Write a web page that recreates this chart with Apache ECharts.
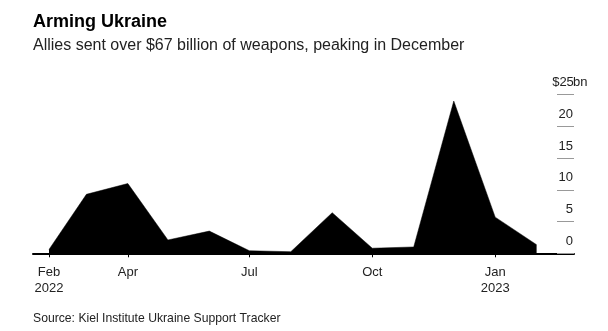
<!DOCTYPE html>
<html>
<head>
<meta charset="utf-8">
<style>
  html, body { margin: 0; padding: 0; background: #fff; }
  #chart { width: 608px; height: 331px; }
</style>
<script src="https://cdn.jsdelivr.net/npm/echarts@6/dist/echarts.min.js"></script>
</head>
<body>
<div id="chart"></div>
<script>
// Monthly weapons commitments to Ukraine, $bn
const months = [
  '2022-02-01', '2022-03-01', '2022-04-01', '2022-05-01', '2022-06-01', '2022-07-01',
  '2022-08-01', '2022-09-01', '2022-10-01', '2022-11-01', '2022-12-01', '2023-01-01',
  '2023-02-01'
];
const weapons = [0.6, 9.3, 11.0, 2.1, 3.5, 0.4, 0.25, 6.4, 0.8, 1.0, 24.0, 5.7, 1.35];

// Date-axis labels
const tickDates = ['2022-02-01', '2022-04-01', '2022-07-01', '2022-10-01', '2023-01-01'];
const tickLabels = ['Feb\n2022', 'Apr', 'Jul', 'Oct', 'Jan\n2023'];

// Value-axis labels
const yTicks = [0, 5, 10, 15, 20, 25];
const yTopLabel = '$25';
const yUnit = 'bn';

const FONT = "'Liberation Sans', Arial, sans-serif";
// dates are placed on a linear day scale
const toDay = d => new Date(d + 'T00:00:00Z').getTime() / 86400000;
const tickDays = tickDates.map(toDay);

const chart = echarts.init(document.getElementById('chart'), null, { renderer: 'canvas' });

chart.setOption({
  animation: false,
  backgroundColor: '#fff',
  textStyle: { fontFamily: FONT },
  title: [
    {
      text: 'Arming Ukraine',
      subtext: 'Allies sent over $67 billion of weapons, peaking in December',
      left: 33,
      top: 12,
      padding: 0,
      itemGap: 4,
      textStyle: { fontFamily: FONT, fontSize: 18, fontWeight: 'bold', color: '#000', lineHeight: 20 },
      subtextStyle: { fontFamily: FONT, fontSize: 16, color: '#222', lineHeight: 19 }
    },
    {
      text: 'Source: Kiel Institute Ukraine Support Tracker',
      left: 33,
      top: 311,
      padding: 0,
      textStyle: { fontFamily: FONT, fontSize: 12.2, fontWeight: 'normal', color: '#222', lineHeight: 16 }
    }
  ],
  grid: { left: 33, right: 34, top: 94.7, bottom: 77.7, containLabel: false },
  xAxis: {
    type: 'value',
    min: toDay('2022-01-20'),
    max: toDay('2023-03-01'),
    axisLine: { show: true, lineStyle: { color: '#000', width: 2 } },
    axisTick: { show: true, length: 4, customValues: tickDays, lineStyle: { color: '#000', width: 1 } },
    splitLine: { show: false },
    axisLabel: {
      customValues: tickDays,
      margin: 11,
      fontFamily: FONT,
      fontSize: 13,
      lineHeight: 16,
      color: '#222',
      formatter: v => {
        const i = tickDays.indexOf(v);
        return i >= 0 ? tickLabels[i] : '';
      }
    }
  },
  yAxis: {
    type: 'value',
    position: 'right',
    min: yTicks[0],
    max: yTicks[yTicks.length - 1],
    interval: 5,
    axisLine: { show: false },
    splitLine: { show: false },
    axisTick: { show: true, inside: true, length: 17, lineStyle: { color: '#999', width: 1 } },
    axisLabel: {
      inside: true,
      margin: 21,
      align: 'left',
      verticalAlign: 'bottom',
      padding: [0, 0, 5, 0],
      lineHeight: 14,
      fontFamily: FONT,
      fontSize: 13,
      color: '#222',
      formatter: v => v === yTicks[yTicks.length - 1]
        ? '{n|' + yTopLabel + '}{u|' + yUnit + '}'
        : '{n|' + v + '}',
      rich: {
        n: { width: 20, align: 'right', fontFamily: FONT, fontSize: 13, color: '#222', lineHeight: 14 },
        u: { fontFamily: FONT, fontSize: 13, color: '#222', lineHeight: 14 }
      }
    }
  },
  series: [{
    type: 'line',
    data: months.map((m, i) => [toDay(m), weapons[i]]),
    showSymbol: false,
    symbol: 'none',
    lineStyle: { color: '#000', width: 0.5 },
    areaStyle: { color: '#000', opacity: 1 },
    z: 1
  }]
});
</script>
</body>
</html>
